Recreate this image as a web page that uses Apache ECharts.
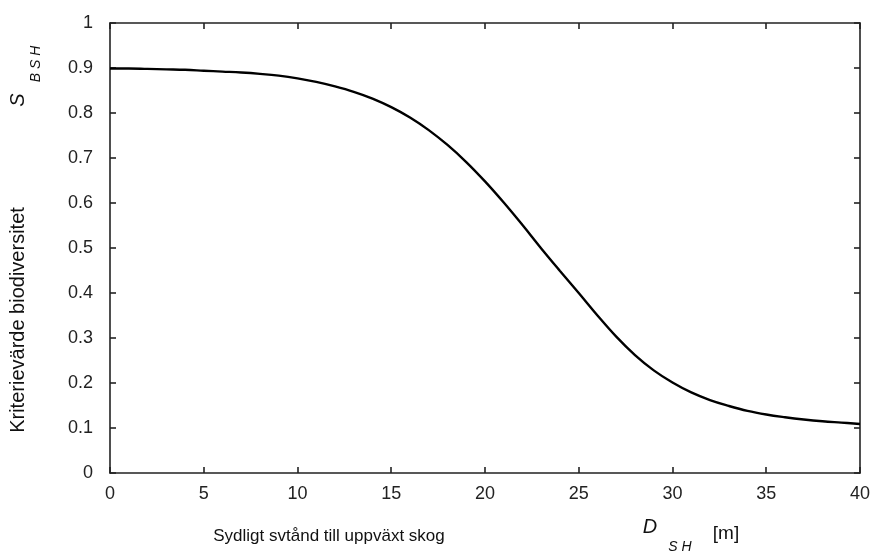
<!DOCTYPE html>
<html>
<head>
<meta charset="utf-8">
<script src="https://cdn.jsdelivr.net/npm/echarts@6/dist/echarts.min.js"></script>
<style>
  html, body { margin: 0; padding: 0; background: #fff; }
  #chart { width: 873px; height: 553px; }
</style>
</head>
<body>
<div id="chart"></div>
<script>
// avstånd (m) och kriterievärde, avlästa från kurvan
const distance = [0, 1, 2, 3, 4, 5, 6, 7, 8, 9, 10, 11, 12, 13, 14, 15, 16, 17, 18, 19, 20,
                  21, 22, 23, 24, 25, 26, 27, 28, 29, 30, 31, 32, 33, 34, 35, 36, 37, 38, 39, 40];
const sbsh = [0.899, 0.899, 0.898, 0.897, 0.896, 0.894, 0.892, 0.890, 0.887, 0.883, 0.877,
              0.869, 0.859, 0.847, 0.832, 0.813, 0.790, 0.762, 0.729, 0.691, 0.648,
              0.601, 0.551, 0.499, 0.449, 0.400, 0.350, 0.303, 0.262, 0.228, 0.201,
              0.179, 0.162, 0.149, 0.138, 0.130, 0.124, 0.119, 0.115, 0.112, 0.109];
const yTicks = [0, 0.1, 0.2, 0.3, 0.4, 0.5, 0.6, 0.7, 0.8, 0.9, 1];

const font = 'Liberation Sans, Arial, sans-serif';
const lineCol = '#222';

let pts = [];
for (var i = 0; i < distance.length; i++) {
    pts.push([distance[i], sbsh[i]]);
}

function boxAxis(pos, isX, showLabel) {
    return {
        type: 'value',
        position: pos,
        min: 0,
        max: isX ? 40 : 1,
        interval: isX ? 5 : 0.1,
        axisLine: {show: true, onZero: false, lineStyle: {color: lineCol, width: 1.6}},
        axisTick: {show: true, inside: true, length: 6, lineStyle: {color: lineCol, width: 1.6}},
        splitLine: {show: false},
        axisLabel: {
            show: showLabel,
            color: '#222',
            fontSize: 18,
            fontFamily: font,
            margin: isX ? 12 : 17,
            formatter: function (v) {
                if (isX) return String(v);
                let r = Math.round(v * 10) / 10;
                return yTicks.indexOf(r) >= 0 ? String(r) : '';
            }
        }
    };
}

let myChart = echarts.init(document.getElementById('chart'));
myChart.setOption({
    animation: false,
    grid: {left: 110, right: 8, top: 23, bottom: 80, containLabel: false},
    xAxis: [boxAxis('bottom', true, true), boxAxis('top', true, false)],
    yAxis: [boxAxis('left', false, true), boxAxis('right', false, false)],
    series: [{
        type: 'line',
        data: pts,
        smooth: 0.4,
        showSymbol: false,
        lineStyle: {color: '#000', width: 2.4}
    }],
    graphic: [
        // y-axelns titel
        {type: 'text', x: 18, y: 320, rotation: Math.PI / 2,
         style: {text: 'Kriterievärde biodiversitet', font: '20px ' + font, fill: '#111',
                 textAlign: 'center', textVerticalAlign: 'middle'}},
        {type: 'text', x: 18, y: 100, rotation: Math.PI / 2,
         style: {text: 'S', font: 'italic 20px ' + font, fill: '#111',
                 textAlign: 'center', textVerticalAlign: 'middle'}},
        {type: 'text', x: 36, y: 64, rotation: Math.PI / 2,
         style: {text: 'B S H', font: 'italic 14px ' + font, fill: '#111',
                 textAlign: 'center', textVerticalAlign: 'middle'}},
        // x-axelns titel
        {type: 'text', x: 329, y: 536,
         style: {text: 'Sydligt svtånd till uppväxt skog', font: '17px ' + font, fill: '#111',
                 textAlign: 'center', textVerticalAlign: 'middle'}},
        {type: 'text', x: 650, y: 527,
         style: {text: 'D', font: 'italic 20px ' + font, fill: '#111',
                 textAlign: 'center', textVerticalAlign: 'middle'}},
        {type: 'text', x: 680, y: 547,
         style: {text: 'S H', font: 'italic 14px ' + font, fill: '#111',
                 textAlign: 'center', textVerticalAlign: 'middle'}},
        {type: 'text', x: 726, y: 534,
         style: {text: '[m]', font: '19px ' + font, fill: '#111',
                 textAlign: 'center', textVerticalAlign: 'middle'}}
    ]
});
</script>
</body>
</html>
